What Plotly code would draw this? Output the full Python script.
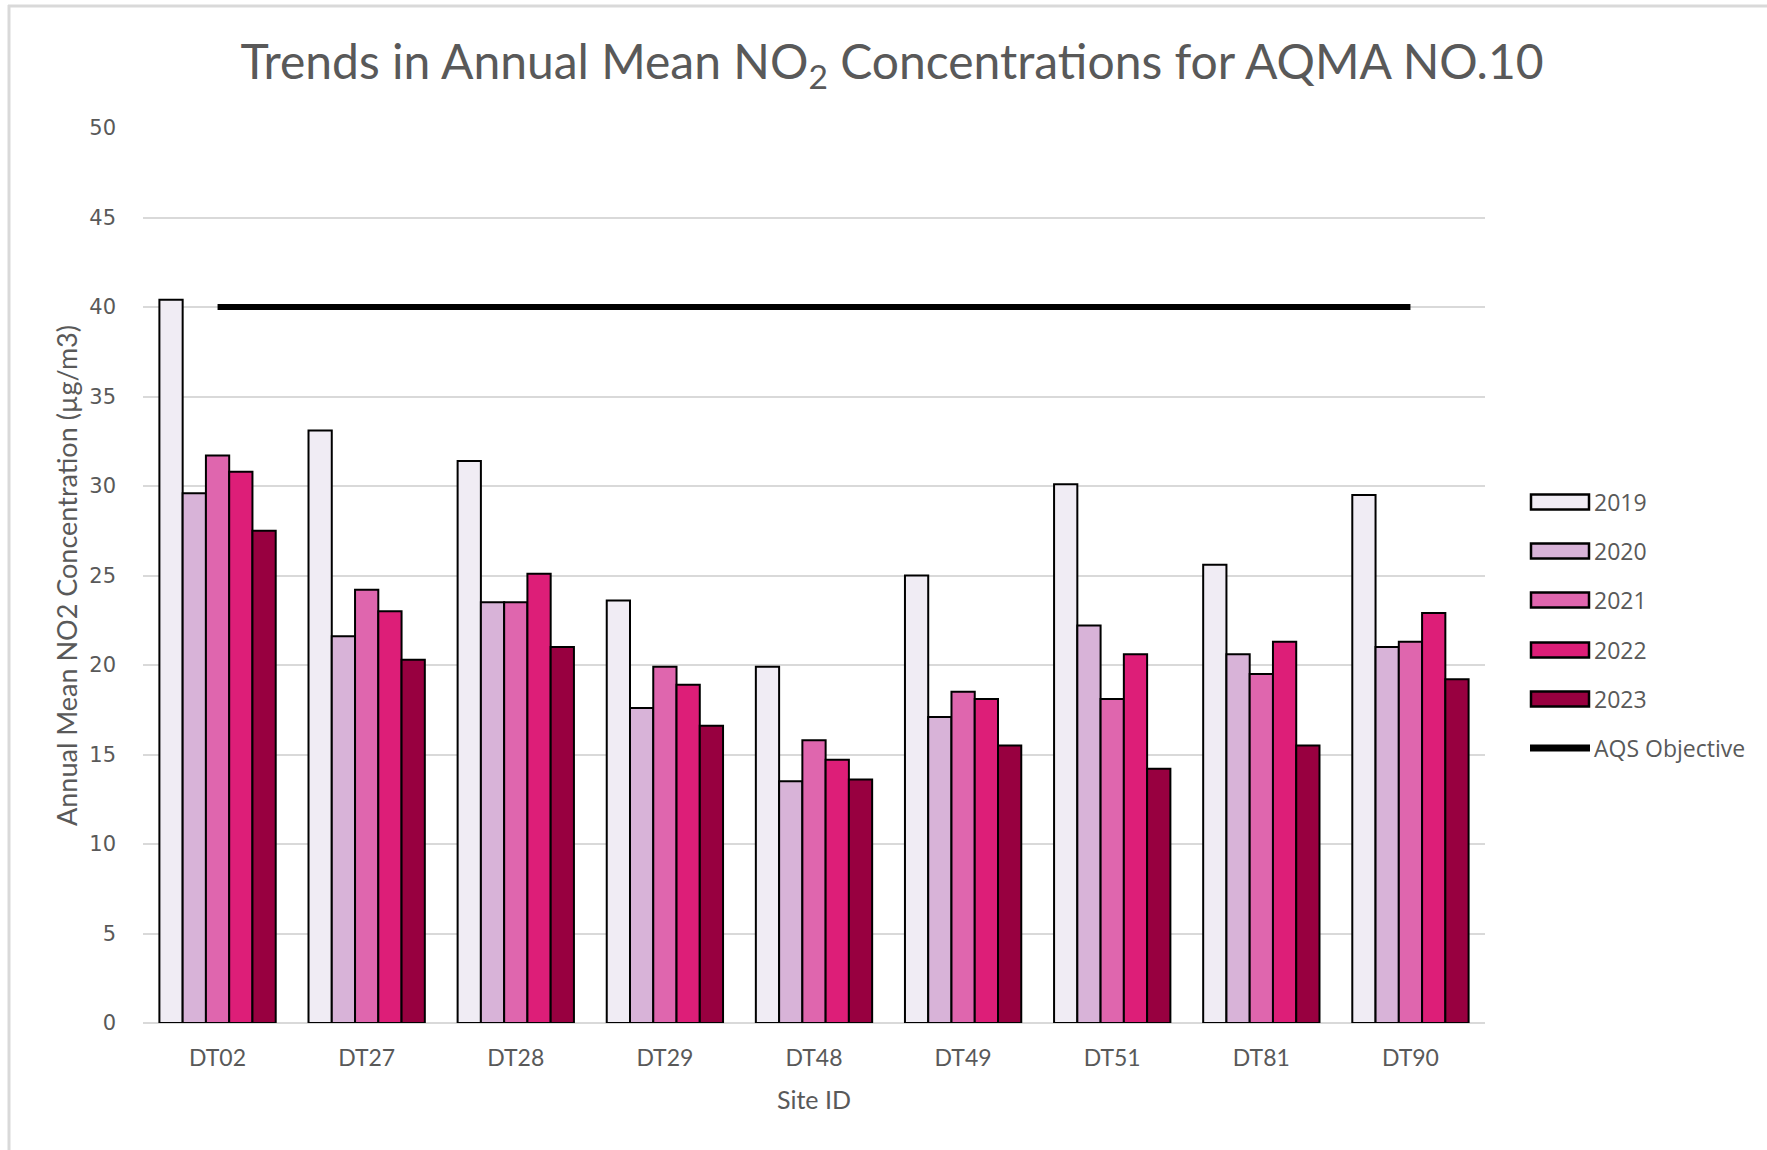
import plotly.graph_objects as go

# Annual mean NO2 concentrations (µg/m3) at each diffusion tube site
sites = ["DT02", "DT27", "DT28", "DT29", "DT48", "DT49", "DT51", "DT81", "DT90"]
years = ["2019", "2020", "2021", "2022", "2023"]
no2_2019 = [40.4, 33.1, 31.4, 23.6, 19.9, 25.0, 30.1, 25.6, 29.5]
no2_2020 = [29.6, 21.6, 23.5, 17.6, 13.5, 17.1, 22.2, 20.6, 21.0]
no2_2021 = [31.7, 24.2, 23.5, 19.9, 15.8, 18.5, 18.1, 19.5, 21.3]
no2_2022 = [30.8, 23.0, 25.1, 18.9, 14.7, 18.1, 20.6, 21.3, 22.9]
no2_2023 = [27.5, 20.3, 21.0, 16.6, 13.6, 15.5, 14.2, 15.5, 19.2]
aqs_objective = [40] * len(sites)

series = [no2_2019, no2_2020, no2_2021, no2_2022, no2_2023]
colors = ["#F0ECF4", "#D8B3D8", "#DF66AE", "#DD1E78", "#980040"]

W, H = 1767, 1150
L, R, T, B = 143, 1485, 128, 1023  # plot area in pixels

HUMANIST = "Lato, Noto Sans, sans-serif"
WIDE = "Open Sans, Segoe UI, DejaVu Sans, sans-serif"
DIGITS = "DejaVu Sans, Verdana, sans-serif"
GREY = "#595959"

fig = go.Figure()
for yr, vals, col in zip(years, series, colors):
    fig.add_trace(go.Bar(
        x=sites, y=vals, name=yr,
        marker=dict(color=col, line=dict(color="#000000", width=2)),
        showlegend=False,
    ))

fig.add_trace(go.Scatter(
    x=sites, y=aqs_objective, mode="lines", name="AQS Objective",
    line=dict(color="#000000", width=6), showlegend=False,
))


def px_x(px):
    return (px - L) / (R - L)


def px_y(py):
    return (B - py) / (B - T)


# Legend drawn as swatches beside the plot
shapes = []
annotations = []
legend_y = [502, 551, 600, 650, 699, 748]
for yr, col, cy in zip(years, colors, legend_y[:5]):
    shapes.append(dict(
        type="rect", xref="paper", yref="paper",
        x0=px_x(1531), x1=px_x(1589), y0=px_y(cy + 7.5), y1=px_y(cy - 7.5),
        fillcolor=col, line=dict(color="#000000", width=2.5),
    ))
    annotations.append(dict(
        xref="paper", yref="paper", x=px_x(1592), y=px_y(cy),
        xanchor="left", yanchor="middle", text=yr, showarrow=False,
        font=dict(family=WIDE, size=23, color=GREY),
    ))
cy = legend_y[5]
shapes.append(dict(
    type="line", xref="paper", yref="paper",
    x0=px_x(1530), x1=px_x(1590), y0=px_y(cy), y1=px_y(cy),
    line=dict(color="#000000", width=7),
))
annotations.append(dict(
    xref="paper", yref="paper", x=px_x(1592), y=px_y(cy),
    xanchor="left", yanchor="middle", text="AQS Objective", showarrow=False,
    font=dict(family=WIDE, size=23, color=GREY),
))

# Light chart border (top and left edges)
shapes.append(dict(type="line", xref="paper", yref="paper",
                   x0=px_x(8), x1=px_x(W + 10), y0=px_y(6), y1=px_y(6),
                   line=dict(color="#D9D9D9", width=3)))
shapes.append(dict(type="line", xref="paper", yref="paper",
                   x0=px_x(9), x1=px_x(9), y0=px_y(5), y1=px_y(H + 10),
                   line=dict(color="#D9D9D9", width=3)))

fig.update_layout(
    width=W, height=H,
    margin=dict(l=L, r=W - R, t=T, b=H - B),
    paper_bgcolor="#FFFFFF", plot_bgcolor="#FFFFFF",
    barmode="group", bargap=0.22, bargroupgap=0,
    title=dict(
        text="Trends in Annual Mean NO<sub>2</sub> Concentrations for AQMA NO.10",
        x=892 / W, xanchor="center", xref="container",
        y=1 - 62 / H, yanchor="middle", yref="container",
        font=dict(family=HUMANIST, size=48, color=GREY),
    ),
    xaxis=dict(
        type="category", showgrid=False, showline=False, ticks="",
        tickfont=dict(family=HUMANIST, size=23, color=GREY),
        ticklabelstandoff=19,
        title=dict(text="Site ID", font=dict(family=HUMANIST, size=25, color=GREY), standoff=21),
    ),
    yaxis=dict(
        range=[0, 50], dtick=5, showgrid=True, gridcolor="#D9D9D9", gridwidth=2,
        zeroline=True, zerolinecolor="#D9D9D9", zerolinewidth=2,
        showline=False, ticks="",
        tickfont=dict(family=DIGITS, size=21, color=GREY),
        ticklabelstandoff=26,
        title=dict(text="Annual Mean NO2 Concentration (µg/m3)",
                   font=dict(family=HUMANIST, size=27, color=GREY), standoff=3),
    ),
    shapes=shapes,
    annotations=annotations,
)

fig.write_html("out.html")
